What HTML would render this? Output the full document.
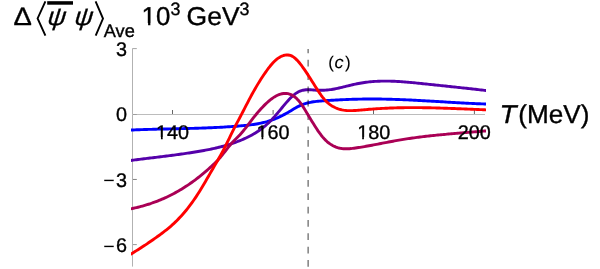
<!DOCTYPE html>
<html><head><meta charset="utf-8"><title>plot</title>
<style>
html,body{margin:0;padding:0;background:#fff;}
body{width:600px;height:269px;overflow:hidden;}
svg{display:block;font-family:"Liberation Sans",sans-serif;}
text{text-rendering:geometricPrecision;stroke:#000;stroke-width:0.35px;}
.txt{filter:grayscale(1);}
.t{font-size:19.8px;fill:#000;}
.c path{fill:none;stroke-width:2.9;stroke-linecap:butt;stroke-linejoin:round;}

.big{font-size:25px;fill:#000;}
</style></head><body>
<svg width="600" height="269" viewBox="0 0 600 269">
<rect width="600" height="269" fill="#fff"/>
<g class="a">
<line x1="132.5" y1="48.2" x2="132.5" y2="266.6" stroke="#b2b2b2" stroke-width="1"/>
<line x1="132" y1="114.5" x2="485" y2="114.5" stroke="#bcbcbc" stroke-width="1"/>
<line x1="172.5" y1="114" x2="172.5" y2="110" stroke="#666" stroke-width="1"/><line x1="273.1" y1="114" x2="273.1" y2="110" stroke="#666" stroke-width="1"/><line x1="373.5" y1="114" x2="373.5" y2="110" stroke="#666" stroke-width="1"/><line x1="474.4" y1="114" x2="474.4" y2="110" stroke="#666" stroke-width="1"/><line x1="133" y1="114.5" x2="136.8" y2="114.5" stroke="#9a9a9a" stroke-width="0.9"/><line x1="133" y1="48.6" x2="136.8" y2="48.6" stroke="#9a9a9a" stroke-width="0.9"/><line x1="133" y1="179.45" x2="136.8" y2="179.45" stroke="#707070" stroke-width="0.9"/><line x1="133" y1="244.6" x2="136.8" y2="244.6" stroke="#8a8a8a" stroke-width="0.9"/>
</g>
<clipPath id="pc"><rect x="131" y="0" width="355" height="269"/></clipPath>
<g class="c" clip-path="url(#pc)">
<path d="M129.0,130.14 L130.5,130.07 L132.0,130.01 L133.5,129.94 L135.0,129.88 L136.5,129.82 L138.0,129.76 L139.5,129.71 L141.0,129.65 L142.5,129.60 L144.0,129.55 L145.5,129.51 L147.0,129.46 L148.5,129.42 L150.0,129.37 L151.5,129.33 L153.0,129.29 L154.5,129.25 L156.0,129.21 L157.5,129.17 L159.0,129.14 L160.5,129.10 L162.0,129.07 L163.5,129.03 L165.0,129.00 L166.5,128.96 L168.0,128.93 L169.5,128.90 L171.0,128.87 L172.5,128.83 L174.0,128.80 L175.5,128.77 L177.0,128.73 L178.5,128.70 L180.0,128.67 L181.5,128.63 L183.0,128.60 L184.5,128.56 L186.0,128.52 L187.5,128.49 L189.0,128.45 L190.5,128.41 L192.0,128.37 L193.5,128.33 L195.0,128.29 L196.5,128.24 L198.0,128.19 L199.5,128.15 L201.0,128.10 L202.5,128.05 L204.0,127.99 L205.5,127.94 L207.0,127.88 L208.5,127.82 L210.0,127.76 L211.5,127.70 L213.0,127.63 L214.5,127.57 L216.0,127.49 L217.5,127.42 L219.0,127.34 L220.5,127.27 L222.0,127.18 L223.5,127.10 L225.0,127.01 L226.5,126.92 L228.0,126.82 L229.5,126.72 L231.0,126.62 L232.5,126.52 L234.0,126.41 L235.5,126.29 L237.0,126.18 L238.5,126.06 L240.0,125.93 L241.5,125.80 L243.0,125.67 L244.5,125.53 L246.0,125.38 L247.5,125.22 L249.0,125.05 L250.5,124.86 L252.0,124.67 L253.5,124.45 L255.0,124.22 L256.5,123.98 L258.0,123.71 L259.5,123.42 L261.0,123.11 L262.5,122.78 L264.0,122.42 L265.5,122.03 L267.0,121.62 L268.5,121.17 L270.0,120.69 L271.5,120.19 L273.0,119.64 L274.5,119.07 L276.0,118.46 L277.5,117.81 L279.0,117.13 L280.5,116.42 L282.0,115.68 L283.5,114.91 L285.0,114.11 L286.5,113.29 L288.0,112.44 L289.5,111.56 L291.0,110.66 L292.5,109.75 L294.0,108.85 L295.5,107.96 L297.0,107.11 L298.5,106.33 L300.0,105.61 L301.5,104.96 L303.0,104.38 L304.5,103.86 L306.0,103.40 L307.5,102.99 L309.0,102.63 L310.5,102.31 L312.0,102.03 L313.5,101.79 L315.0,101.59 L316.5,101.40 L318.0,101.25 L319.5,101.11 L321.0,100.98 L322.5,100.87 L324.0,100.76 L325.5,100.66 L327.0,100.56 L328.5,100.46 L330.0,100.36 L331.5,100.27 L333.0,100.18 L334.5,100.10 L336.0,100.01 L337.5,99.93 L339.0,99.86 L340.5,99.78 L342.0,99.71 L343.5,99.64 L345.0,99.58 L346.5,99.52 L348.0,99.46 L349.5,99.41 L351.0,99.36 L352.5,99.31 L354.0,99.26 L355.5,99.22 L357.0,99.19 L358.5,99.15 L360.0,99.12 L361.5,99.09 L363.0,99.07 L364.5,99.05 L366.0,99.03 L367.5,99.02 L369.0,99.01 L370.5,99.01 L372.0,99.00 L373.5,99.01 L375.0,99.01 L376.5,99.02 L378.0,99.03 L379.5,99.05 L381.0,99.07 L382.5,99.09 L384.0,99.12 L385.5,99.15 L387.0,99.18 L388.5,99.22 L390.0,99.25 L391.5,99.30 L393.0,99.34 L394.5,99.39 L396.0,99.44 L397.5,99.49 L399.0,99.54 L400.5,99.60 L402.0,99.66 L403.5,99.72 L405.0,99.79 L406.5,99.85 L408.0,99.92 L409.5,99.99 L411.0,100.06 L412.5,100.13 L414.0,100.21 L415.5,100.28 L417.0,100.36 L418.5,100.44 L420.0,100.52 L421.5,100.60 L423.0,100.69 L424.5,100.77 L426.0,100.85 L427.5,100.94 L429.0,101.03 L430.5,101.11 L432.0,101.20 L433.5,101.29 L435.0,101.38 L436.5,101.46 L438.0,101.55 L439.5,101.64 L441.0,101.73 L442.5,101.82 L444.0,101.91 L445.5,102.00 L447.0,102.09 L448.5,102.18 L450.0,102.26 L451.5,102.35 L453.0,102.44 L454.5,102.52 L456.0,102.61 L457.5,102.69 L459.0,102.78 L460.5,102.86 L462.0,102.94 L463.5,103.02 L465.0,103.10 L466.5,103.18 L468.0,103.25 L469.5,103.33 L471.0,103.40 L472.5,103.47 L474.0,103.54 L475.5,103.61 L477.0,103.68 L478.5,103.74 L480.0,103.80 L481.5,103.86 L483.0,103.92 L484.5,103.97 L486.0,104.03 L487.5,104.08 L488.0,104.09" stroke="#0000ff"/>
<path d="M129.0,160.68 L130.5,160.48 L132.0,160.29 L133.5,160.09 L135.0,159.90 L136.5,159.71 L138.0,159.52 L139.5,159.33 L141.0,159.15 L142.5,158.96 L144.0,158.78 L145.5,158.60 L147.0,158.41 L148.5,158.23 L150.0,158.05 L151.5,157.87 L153.0,157.69 L154.5,157.51 L156.0,157.32 L157.5,157.14 L159.0,156.96 L160.5,156.78 L162.0,156.59 L163.5,156.41 L165.0,156.22 L166.5,156.03 L168.0,155.84 L169.5,155.65 L171.0,155.46 L172.5,155.27 L174.0,155.07 L175.5,154.87 L177.0,154.67 L178.5,154.47 L180.0,154.26 L181.5,154.05 L183.0,153.84 L184.5,153.63 L186.0,153.41 L187.5,153.19 L189.0,152.96 L190.5,152.73 L192.0,152.50 L193.5,152.26 L195.0,152.02 L196.5,151.78 L198.0,151.53 L199.5,151.27 L201.0,151.01 L202.5,150.75 L204.0,150.47 L205.5,150.19 L207.0,149.91 L208.5,149.61 L210.0,149.31 L211.5,148.99 L213.0,148.67 L214.5,148.33 L216.0,147.99 L217.5,147.63 L219.0,147.27 L220.5,146.89 L222.0,146.49 L223.5,146.09 L225.0,145.67 L226.5,145.23 L228.0,144.78 L229.5,144.32 L231.0,143.84 L232.5,143.34 L234.0,142.82 L235.5,142.29 L237.0,141.74 L238.5,141.17 L240.0,140.58 L241.5,139.97 L243.0,139.34 L244.5,138.68 L246.0,138.00 L247.5,137.29 L249.0,136.55 L250.5,135.77 L252.0,134.95 L253.5,134.10 L255.0,133.20 L256.5,132.26 L258.0,131.28 L259.5,130.24 L261.0,129.16 L262.5,128.02 L264.0,126.82 L265.5,125.57 L267.0,124.25 L268.5,122.87 L270.0,121.42 L271.5,119.91 L273.0,118.32 L274.5,116.67 L276.0,114.94 L277.5,113.17 L279.0,111.37 L280.5,109.55 L282.0,107.72 L283.5,105.91 L285.0,104.12 L286.5,102.38 L288.0,100.69 L289.5,99.08 L291.0,97.55 L292.5,96.13 L294.0,94.83 L295.5,93.66 L297.0,92.64 L298.5,91.78 L300.0,91.10 L301.5,90.58 L303.0,90.20 L304.5,89.95 L306.0,89.80 L307.5,89.74 L309.0,89.75 L310.5,89.81 L312.0,89.90 L313.5,90.00 L315.0,90.11 L316.5,90.19 L318.0,90.24 L319.5,90.26 L321.0,90.26 L322.5,90.23 L324.0,90.18 L325.5,90.09 L327.0,89.97 L328.5,89.83 L330.0,89.65 L331.5,89.45 L333.0,89.21 L334.5,88.95 L336.0,88.66 L337.5,88.35 L339.0,88.02 L340.5,87.67 L342.0,87.31 L343.5,86.95 L345.0,86.58 L346.5,86.20 L348.0,85.83 L349.5,85.47 L351.0,85.11 L352.5,84.76 L354.0,84.42 L355.5,84.10 L357.0,83.79 L358.5,83.49 L360.0,83.21 L361.5,82.95 L363.0,82.71 L364.5,82.49 L366.0,82.28 L367.5,82.10 L369.0,81.93 L370.5,81.78 L372.0,81.64 L373.5,81.52 L375.0,81.42 L376.5,81.33 L378.0,81.26 L379.5,81.21 L381.0,81.16 L382.5,81.13 L384.0,81.11 L385.5,81.11 L387.0,81.12 L388.5,81.14 L390.0,81.17 L391.5,81.21 L393.0,81.26 L394.5,81.32 L396.0,81.39 L397.5,81.47 L399.0,81.55 L400.5,81.65 L402.0,81.75 L403.5,81.86 L405.0,81.98 L406.5,82.10 L408.0,82.23 L409.5,82.36 L411.0,82.50 L412.5,82.64 L414.0,82.78 L415.5,82.93 L417.0,83.08 L418.5,83.24 L420.0,83.39 L421.5,83.55 L423.0,83.70 L424.5,83.86 L426.0,84.02 L427.5,84.18 L429.0,84.33 L430.5,84.49 L432.0,84.65 L433.5,84.80 L435.0,84.96 L436.5,85.12 L438.0,85.28 L439.5,85.43 L441.0,85.59 L442.5,85.75 L444.0,85.90 L445.5,86.06 L447.0,86.22 L448.5,86.38 L450.0,86.54 L451.5,86.70 L453.0,86.85 L454.5,87.01 L456.0,87.17 L457.5,87.33 L459.0,87.50 L460.5,87.66 L462.0,87.82 L463.5,87.98 L465.0,88.15 L466.5,88.31 L468.0,88.47 L469.5,88.64 L471.0,88.81 L472.5,88.97 L474.0,89.14 L475.5,89.31 L477.0,89.48 L478.5,89.65 L480.0,89.82 L481.5,90.00 L483.0,90.17 L484.5,90.35 L486.0,90.52 L487.5,90.70 L488.0,90.76" stroke="#5500aa"/>
<line x1="308.15" y1="49.1" x2="308.15" y2="269" style="stroke:#000;stroke-opacity:0.5;stroke-width:1.5;stroke-dasharray:6.75 6.6;stroke-dashoffset:2.65"/>
<path d="M129.0,209.17 L130.5,208.88 L132.0,208.58 L133.5,208.26 L135.0,207.93 L136.5,207.58 L138.0,207.22 L139.5,206.84 L141.0,206.45 L142.5,206.04 L144.0,205.62 L145.5,205.18 L147.0,204.72 L148.5,204.25 L150.0,203.76 L151.5,203.25 L153.0,202.73 L154.5,202.19 L156.0,201.63 L157.5,201.05 L159.0,200.46 L160.5,199.84 L162.0,199.21 L163.5,198.56 L165.0,197.89 L166.5,197.20 L168.0,196.49 L169.5,195.76 L171.0,195.01 L172.5,194.24 L174.0,193.44 L175.5,192.63 L177.0,191.80 L178.5,190.94 L180.0,190.07 L181.5,189.17 L183.0,188.25 L184.5,187.30 L186.0,186.34 L187.5,185.35 L189.0,184.34 L190.5,183.30 L192.0,182.24 L193.5,181.16 L195.0,180.05 L196.5,178.92 L198.0,177.76 L199.5,176.58 L201.0,175.38 L202.5,174.15 L204.0,172.90 L205.5,171.62 L207.0,170.32 L208.5,168.99 L210.0,167.64 L211.5,166.27 L213.0,164.87 L214.5,163.45 L216.0,161.99 L217.5,160.48 L219.0,158.88 L220.5,157.17 L222.0,155.36 L223.5,153.46 L225.0,151.52 L226.5,149.56 L228.0,147.63 L229.5,145.74 L231.0,143.95 L232.5,142.27 L234.0,140.71 L235.5,139.21 L237.0,137.74 L238.5,136.25 L240.0,134.70 L241.5,133.03 L243.0,131.28 L244.5,129.44 L246.0,127.54 L247.5,125.60 L249.0,123.63 L250.5,121.65 L252.0,119.68 L253.5,117.73 L255.0,115.82 L256.5,113.97 L258.0,112.17 L259.5,110.44 L261.0,108.77 L262.5,107.16 L264.0,105.62 L265.5,104.14 L267.0,102.73 L268.5,101.39 L270.0,100.13 L271.5,98.96 L273.0,97.88 L274.5,96.90 L276.0,96.02 L277.5,95.26 L279.0,94.62 L280.5,94.11 L282.0,93.73 L283.5,93.49 L285.0,93.40 L286.5,93.47 L288.0,93.69 L289.5,94.09 L291.0,94.66 L292.5,95.41 L294.0,96.36 L295.5,97.52 L297.0,98.90 L298.5,100.52 L300.0,102.37 L301.5,104.42 L303.0,106.64 L304.5,108.99 L306.0,111.43 L307.5,113.92 L309.0,116.43 L310.5,118.93 L312.0,121.41 L313.5,123.86 L315.0,126.26 L316.5,128.58 L318.0,130.82 L319.5,132.95 L321.0,134.97 L322.5,136.84 L324.0,138.56 L325.5,140.12 L327.0,141.52 L328.5,142.77 L330.0,143.89 L331.5,144.86 L333.0,145.71 L334.5,146.44 L336.0,147.06 L337.5,147.57 L339.0,147.99 L340.5,148.31 L342.0,148.54 L343.5,148.70 L345.0,148.79 L346.5,148.81 L348.0,148.78 L349.5,148.69 L351.0,148.57 L352.5,148.41 L354.0,148.22 L355.5,148.01 L357.0,147.78 L358.5,147.55 L360.0,147.31 L361.5,147.07 L363.0,146.81 L364.5,146.56 L366.0,146.29 L367.5,146.03 L369.0,145.75 L370.5,145.48 L372.0,145.20 L373.5,144.92 L375.0,144.63 L376.5,144.35 L378.0,144.06 L379.5,143.77 L381.0,143.48 L382.5,143.19 L384.0,142.90 L385.5,142.61 L387.0,142.33 L388.5,142.04 L390.0,141.76 L391.5,141.48 L393.0,141.20 L394.5,140.93 L396.0,140.66 L397.5,140.39 L399.0,140.13 L400.5,139.88 L402.0,139.63 L403.5,139.38 L405.0,139.15 L406.5,138.91 L408.0,138.69 L409.5,138.46 L411.0,138.24 L412.5,138.03 L414.0,137.82 L415.5,137.62 L417.0,137.42 L418.5,137.23 L420.0,137.04 L421.5,136.85 L423.0,136.67 L424.5,136.49 L426.0,136.31 L427.5,136.14 L429.0,135.97 L430.5,135.81 L432.0,135.65 L433.5,135.49 L435.0,135.33 L436.5,135.18 L438.0,135.03 L439.5,134.88 L441.0,134.74 L442.5,134.60 L444.0,134.46 L445.5,134.32 L447.0,134.18 L448.5,134.05 L450.0,133.91 L451.5,133.78 L453.0,133.65 L454.5,133.53 L456.0,133.40 L457.5,133.27 L459.0,133.15 L460.5,133.02 L462.0,132.90 L463.5,132.78 L465.0,132.66 L466.5,132.53 L468.0,132.41 L469.5,132.29 L471.0,132.17 L472.5,132.05 L474.0,131.92 L475.5,131.80 L477.0,131.68 L478.5,131.55 L480.0,131.43 L481.5,131.31 L483.0,131.18 L484.5,131.05 L486.0,130.92 L487.5,130.79 L488.0,130.75" stroke="#aa0055"/>
<path d="M129.0,255.22 L130.5,254.33 L132.0,253.42 L133.5,252.50 L135.0,251.58 L136.5,250.64 L138.0,249.70 L139.5,248.75 L141.0,247.78 L142.5,246.81 L144.0,245.83 L145.5,244.84 L147.0,243.83 L148.5,242.82 L150.0,241.80 L151.5,240.77 L153.0,239.73 L154.5,238.67 L156.0,237.61 L157.5,236.54 L159.0,235.46 L160.5,234.36 L162.0,233.25 L163.5,232.12 L165.0,230.97 L166.5,229.79 L168.0,228.57 L169.5,227.33 L171.0,226.04 L172.5,224.70 L174.0,223.33 L175.5,221.90 L177.0,220.42 L178.5,218.89 L180.0,217.31 L181.5,215.68 L183.0,213.99 L184.5,212.25 L186.0,210.45 L187.5,208.59 L189.0,206.66 L190.5,204.68 L192.0,202.63 L193.5,200.52 L195.0,198.34 L196.5,196.10 L198.0,193.79 L199.5,191.41 L201.0,188.98 L202.5,186.50 L204.0,183.98 L205.5,181.43 L207.0,178.85 L208.5,176.26 L210.0,173.65 L211.5,171.05 L213.0,168.45 L214.5,165.87 L216.0,163.29 L217.5,160.71 L219.0,158.09 L220.5,155.42 L222.0,152.69 L223.5,149.87 L225.0,146.96 L226.5,143.95 L228.0,140.89 L229.5,137.79 L231.0,134.71 L232.5,131.65 L234.0,128.65 L235.5,125.74 L237.0,122.89 L238.5,120.08 L240.0,117.26 L241.5,114.42 L243.0,111.54 L244.5,108.63 L246.0,105.71 L247.5,102.80 L249.0,99.91 L250.5,97.08 L252.0,94.31 L253.5,91.60 L255.0,88.96 L256.5,86.38 L258.0,83.87 L259.5,81.43 L261.0,79.06 L262.5,76.75 L264.0,74.50 L265.5,72.33 L267.0,70.22 L268.5,68.20 L270.0,66.29 L271.5,64.48 L273.0,62.81 L274.5,61.28 L276.0,59.91 L277.5,58.69 L279.0,57.63 L280.5,56.75 L282.0,56.03 L283.5,55.49 L285.0,55.13 L286.5,54.96 L288.0,54.98 L289.5,55.20 L291.0,55.66 L292.5,56.40 L294.0,57.40 L295.5,58.64 L297.0,60.10 L298.5,61.74 L300.0,63.54 L301.5,65.48 L303.0,67.54 L304.5,69.68 L306.0,71.89 L307.5,74.17 L309.0,76.48 L310.5,78.83 L312.0,81.20 L313.5,83.58 L315.0,85.94 L316.5,88.29 L318.0,90.60 L319.5,92.86 L321.0,95.04 L322.5,97.08 L324.0,98.96 L325.5,100.65 L327.0,102.14 L328.5,103.46 L330.0,104.62 L331.5,105.64 L333.0,106.52 L334.5,107.30 L336.0,107.98 L337.5,108.57 L339.0,109.07 L340.5,109.50 L342.0,109.84 L343.5,110.12 L345.0,110.34 L346.5,110.49 L348.0,110.60 L349.5,110.65 L351.0,110.66 L352.5,110.63 L354.0,110.57 L355.5,110.49 L357.0,110.38 L358.5,110.26 L360.0,110.12 L361.5,109.98 L363.0,109.84 L364.5,109.70 L366.0,109.57 L367.5,109.44 L369.0,109.31 L370.5,109.19 L372.0,109.08 L373.5,108.97 L375.0,108.86 L376.5,108.76 L378.0,108.67 L379.5,108.58 L381.0,108.49 L382.5,108.41 L384.0,108.33 L385.5,108.25 L387.0,108.18 L388.5,108.12 L390.0,108.06 L391.5,108.00 L393.0,107.95 L394.5,107.90 L396.0,107.85 L397.5,107.81 L399.0,107.77 L400.5,107.74 L402.0,107.71 L403.5,107.69 L405.0,107.67 L406.5,107.65 L408.0,107.64 L409.5,107.63 L411.0,107.62 L412.5,107.62 L414.0,107.62 L415.5,107.62 L417.0,107.63 L418.5,107.64 L420.0,107.65 L421.5,107.67 L423.0,107.68 L424.5,107.71 L426.0,107.73 L427.5,107.76 L429.0,107.78 L430.5,107.81 L432.0,107.85 L433.5,107.88 L435.0,107.92 L436.5,107.96 L438.0,108.00 L439.5,108.05 L441.0,108.09 L442.5,108.14 L444.0,108.19 L445.5,108.24 L447.0,108.29 L448.5,108.34 L450.0,108.39 L451.5,108.45 L453.0,108.51 L454.5,108.56 L456.0,108.62 L457.5,108.68 L459.0,108.74 L460.5,108.80 L462.0,108.86 L463.5,108.92 L465.0,108.98 L466.5,109.05 L468.0,109.11 L469.5,109.17 L471.0,109.24 L472.5,109.30 L474.0,109.36 L475.5,109.42 L477.0,109.49 L478.5,109.55 L480.0,109.61 L481.5,109.67 L483.0,109.73 L484.5,109.79 L486.0,109.85 L487.5,109.91 L488.0,109.93" stroke="#ff0000"/>
</g>
<defs><clipPath id="nf"><path clip-rule="evenodd" d="M0,0H600V269H0ZM157,137H160.96V140H157Z M162.71,137H167V140H162.71ZM257,137H261.56V140H257Z M263.31,137H267V140H263.31ZM358,137H362.16V140H358Z M363.91,137H368V140H363.91ZM143,23H148.09V26H143Z M150.37,23H155V26H150.37Z"/></clipPath></defs>
<g class="txt" clip-path="url(#nf)">
<g class="t"><text x="155.98" y="139.4">140</text><text x="256.58" y="139.4">160</text><text x="357.18" y="139.4">180</text><text x="457.78" y="139.4">200</text><text x="126.9" y="56.0" text-anchor="end">3</text><text x="126.9" y="121.3" text-anchor="end">0</text><text x="126.9" y="186.6" text-anchor="end">3</text><text style="stroke-width:0" transform="translate(103.3,187.3) scale(0.99,1)">−</text><text x="126.9" y="251.9" text-anchor="end">6</text><text style="stroke-width:0" transform="translate(103.3,252.6) scale(0.99,1)">−</text></g>
<text class="big" transform="translate(13.6,24.7) scale(1.1,1)">&#916;</text>
<path d="M45.4,1.3 L37.6,18.4 L45.4,35.6" fill="none" stroke="#000" stroke-width="1.9"/>
<rect x="47.2" y="1.2" width="25.8" height="3.5" fill="#000"/>
<text class="big" transform="translate(47.1,24.9) skewX(-6) scale(1.02,1)" font-style="italic">&#968;</text>
<text class="big" transform="translate(74.0,24.9) skewX(-6) scale(1.02,1)" font-style="italic">&#968;</text>
<path d="M95.6,1.3 L103.0,18.5 L95.7,35.7" fill="none" stroke="#000" stroke-width="1.9"/>
<text x="103.8" y="36.9" font-size="18.2">Ave</text>
<text x="141.6" y="25.4" font-size="25.8">10</text>
<text x="170.6" y="14.8" font-size="17.9">3</text>
<text x="186.6" y="25.4" font-size="25.8" textLength="53" lengthAdjust="spacingAndGlyphs">GeV</text>
<text x="239.6" y="14.8" font-size="17.9">3</text>
<text font-size="25.8" font-style="italic" transform="translate(499.6,122.7) scale(1.08,1)">T</text>
<text font-size="25.8" x="518.2" y="122.7" textLength="71.2" lengthAdjust="spacingAndGlyphs">(MeV)</text>
<g font-size="17" style="stroke-width:0.1px"><text x="328.3" y="68.2" style="stroke-width:0.1px">(</text><text transform="translate(334.4,68.2) scale(1.07,1)" font-style="italic" style="stroke-width:0.1px">c</text><text x="345.0" y="68.2" style="stroke-width:0.1px">)</text></g>
</g>
</svg>
</body></html>
